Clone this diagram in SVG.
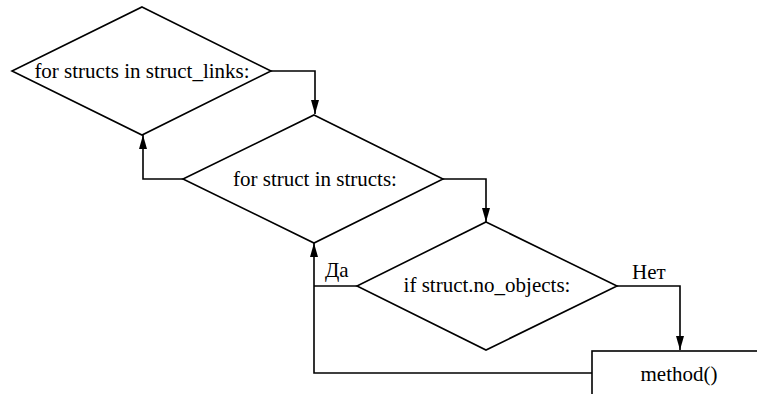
<svg xmlns="http://www.w3.org/2000/svg" width="757" height="394" viewBox="0 0 757 394">
  <style>
    .shape { fill: #ffffff; stroke: #000000; stroke-width: 1.6; }
    .edge { fill: none; stroke: #000000; stroke-width: 1.6; }
  </style>
  <defs>
    <marker id="arrow" viewBox="0 0 14 8" refX="14" refY="4" markerWidth="14" markerHeight="8" markerUnits="userSpaceOnUse" orient="auto">
      <path d="M0,0 L14,4 L0,8 Z" fill="#000000"/>
    </marker>
  </defs>
  <rect width="757" height="394" fill="#ffffff"/>

  <g id="connectors">
    <!-- outer loop into inner loop -->
    <polyline class="edge" points="271,71 315,71 315,114" marker-end="url(#arrow)"/>
    <!-- inner loop exhausted: back to outer loop -->
    <polyline class="edge" points="183,179 143,179 143,135" marker-end="url(#arrow)"/>
    <!-- inner loop body into condition -->
    <polyline class="edge" points="443,179 486,179 486,222" marker-end="url(#arrow)"/>
    <!-- condition true: back to inner loop -->
    <polyline class="edge" points="357,286 314,286"/>
    <!-- condition false: call method -->
    <polyline class="edge" points="617,286 680,286 680,350" marker-end="url(#arrow)"/>
    <!-- after method: back to inner loop -->
    <polyline class="edge" points="592,373 314,373 314,243" marker-end="url(#arrow)"/>
    <text font-family="Liberation Serif, serif" font-size="21" x="325" y="277">Да</text>
    <text font-family="Liberation Serif, serif" font-size="21" x="632" y="279">Нет</text>
  </g>

  <g id="outer-loop">
    <polygon class="shape" points="142,7 271,71 142,135 12,71"/>
    <text font-family="Liberation Serif, serif" font-size="21" text-anchor="middle" x="142" y="78">for structs in struct_links:</text>
  </g>

  <g id="inner-loop">
    <polygon class="shape" points="314,115 443,179 314,243 183,179"/>
    <text font-family="Liberation Serif, serif" font-size="21" text-anchor="middle" x="315" y="186">for struct in structs:</text>
  </g>

  <g id="condition">
    <polygon class="shape" points="486,222 617,286 486,350 357,286"/>
    <text font-family="Liberation Serif, serif" font-size="21" text-anchor="middle" x="487" y="292">if struct.no_objects:</text>
  </g>

  <g id="method">
    <rect class="shape" x="592" y="351" width="180" height="60"/>
    <text font-family="Liberation Serif, serif" font-size="21" text-anchor="middle" x="679" y="381">method()</text>
  </g>
</svg>
